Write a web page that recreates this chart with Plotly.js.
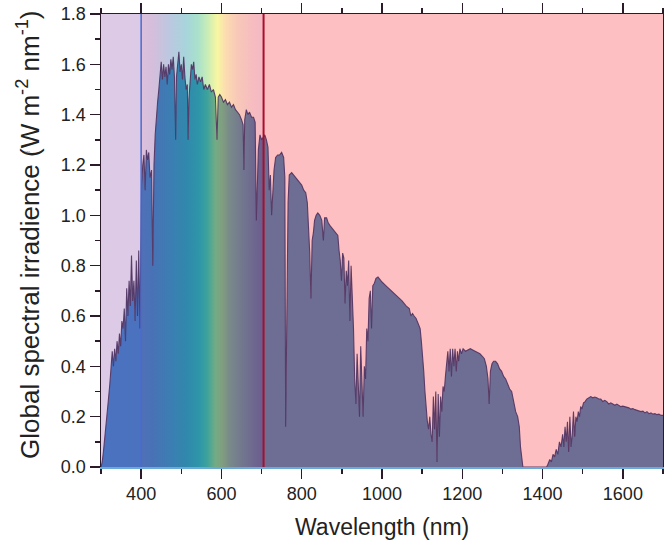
<!DOCTYPE html>
<html>
<head>
<meta charset="utf-8">
<script src="https://cdn.plot.ly/plotly-3.0.1.min.js"></script>
<style>html,body{margin:0;padding:0;background:#fff;}#chart{width:664px;height:540px;}</style>
</head>
<body>
<div id="chart"></div>
<script>
// ---- Data ----
const wavelength = [300,303,306,310,314,318,322,325,328,331,334,337,340,343,346,349,352,355,358,361,364,367,370,373,376,379,382,385,388,391,394,397,399,
401,404,407,410,413,416,419,422,426,429,432,435,438,441,444,447,450,453,456,459,462,465,468,471,474,477,480,483,486,488,491,494,497,500,503,506,509,512,515,517,519,522,525,528,531,534,537,540,544,548,552,556,560,565,570,575,580,585,589,592,596,
600,605,610,615,620,625,630,635,640,645,650,654,656,658,662,666,670,675,680,684,687,689,692,696,700,704,708,712,716,719,722,725,728,731,735,740,745,750,755,758,760,762,764,766,769,775,780,785,790,795,
800,805,810,814,817,820,823,826,829,832,836,840,845,850,854,857,862,866,870,875,880,885,890,893,896,899,902,905,908,911,914,917,920,923,926,929,932,935,938,941,944,947,950,953,956,959,962,965,968,971,974,977,981,985,990,995,
1000,1010,1020,1030,1040,1050,1060,1068,1072,1076,1080,1085,1090,1095,1098,1101,1104,1107,1110,1113,1116,1119,1122,1125,1128,1131,1134,1137,1140,1143,1146,1149,1152,1155,1158,1161,1164,1167,1170,1173,1176,1179,1182,1185,1188,1191,1194,1198,
1202,1208,1214,1220,1226,1232,1238,1244,1250,1255,1260,1264,1267,1270,1274,1278,1283,1288,1293,1298,1303,1308,1313,1318,1323,1328,1333,1338,1342,1345,1348,1351,1400,1410,1413,1418,1422,1426,1430,1434,1438,1442,1446,1450,1453,1456,1459,1462,1465,1468,1471,1474,1477,1480,1483,1486,1489,1492,1495,1498,
1502,1506,1510,1515,1520,1525,1530,1535,1540,1545,1550,1555,1560,1565,1570,1575,1580,1585,1590,1595,1600,1605,1610,1615,1620,1625,1630,1635,1640,1645,1650,1655,1660,1665,1670,1675,1680,1685,1690,1695,1700];

const irradiance = [0.0,0.02,0.06,0.12,0.19,0.26,0.33,0.40,0.46,0.40,0.47,0.42,0.50,0.45,0.53,0.48,0.58,0.55,0.63,0.50,0.71,0.60,0.74,0.64,0.84,0.66,0.74,0.58,0.82,0.60,0.86,0.55,0.90,
1.12,1.20,1.24,1.10,1.26,1.22,1.25,1.15,1.18,0.80,1.20,1.32,1.40,1.45,1.50,1.56,1.61,1.54,1.60,1.55,1.59,1.52,1.60,1.56,1.62,1.58,1.63,1.55,1.30,1.55,1.60,1.65,1.57,1.60,1.54,1.63,1.55,1.50,1.52,1.30,1.46,1.55,1.60,1.58,1.61,1.54,1.56,1.52,1.55,1.53,1.55,1.50,1.52,1.50,1.52,1.49,1.50,1.47,1.30,1.47,1.48,
1.47,1.45,1.46,1.44,1.45,1.43,1.44,1.42,1.41,1.40,1.38,1.36,1.18,1.38,1.42,1.40,1.41,1.39,1.39,1.37,0.98,1.15,1.26,1.32,1.30,1.31,1.32,1.30,1.27,1.10,1.16,1.00,1.10,1.18,1.23,1.24,1.24,1.25,1.23,1.15,0.16,0.40,0.69,1.05,1.16,1.17,1.16,1.15,1.14,1.13,
1.12,1.10,1.09,1.05,0.95,0.85,0.67,0.90,0.93,0.98,1.00,1.01,1.00,0.98,0.90,0.99,0.99,0.97,0.96,0.95,0.94,0.93,0.92,0.86,0.82,0.74,0.85,0.83,0.65,0.78,0.72,0.82,0.58,0.80,0.70,0.55,0.35,0.25,0.45,0.30,0.20,0.48,0.30,0.20,0.40,0.35,0.55,0.50,0.67,0.70,0.55,0.72,0.73,0.75,0.755,0.745,
0.735,0.72,0.705,0.69,0.675,0.66,0.64,0.63,0.60,0.61,0.60,0.59,0.57,0.55,0.50,0.45,0.38,0.30,0.22,0.18,0.15,0.20,0.13,0.10,0.28,0.15,0.30,0.02,0.29,0.12,0.28,0.22,0.32,0.30,0.36,0.42,0.46,0.38,0.47,0.36,0.47,0.40,0.47,0.38,0.46,0.42,0.47,0.45,
0.47,0.46,0.465,0.47,0.465,0.46,0.455,0.45,0.44,0.43,0.40,0.35,0.25,0.38,0.41,0.42,0.42,0.41,0.39,0.38,0.36,0.35,0.33,0.31,0.30,0.26,0.22,0.20,0.16,0.08,0.03,0.0,0.0,0.0,0.01,0.03,0.02,0.05,0.04,0.07,0.05,0.10,0.08,0.13,0.08,0.16,0.10,0.18,0.06,0.20,0.08,0.13,0.22,0.12,0.20,0.18,0.22,0.20,0.24,0.23,
0.255,0.26,0.27,0.275,0.28,0.275,0.278,0.275,0.27,0.27,0.26,0.265,0.26,0.25,0.255,0.25,0.245,0.25,0.245,0.24,0.242,0.24,0.238,0.235,0.23,0.232,0.228,0.225,0.225,0.22,0.222,0.215,0.22,0.212,0.215,0.21,0.212,0.208,0.21,0.205,0.205];

// Spectral regions (nm)
const xRange = [300, 1700];
const yRange = [0, 1.8];
const uvEdge = 400;
const irEdge = 705;
const xTicks = [400, 600, 800, 1000, 1200, 1400, 1600];

// Text
const xTitle = 'Wavelength (nm)';
const yTitle = 'Global spectral irradience (W m<sup>-2</sup> nm<sup>-1</sup>)';

// Colour stops along wavelength
const bgStopsWl  = [300, 399, 400, 430, 470, 510, 540, 565, 590, 610, 640, 680, 703, 705, 1700];
const bgStopsCol = ['#dccae6','#dccae6','#dcc0dc','#d4bedc','#bcc8e0','#a8d4dc','#a8e0cc','#c8ecb8','#f8f6a2','#fcdcb0','#f8c8b8','#f6bcc0','#f4b8c4','#fdbfc1','#fdbfc1'];
const fillStopsWl  = [300, 399, 400, 430, 470, 510, 545, 565, 585, 600, 620, 650, 680, 703, 705, 1700];
const fillStopsCol = ['#4a72bf','#4a72bf','#5070b8','#4872b5','#3c7db3','#3187ad','#2e96a8','#3ea29c','#72ac84','#80a080','#7a8a8a','#72788e','#6e6890','#6c5c8e','#6e6e94','#6e6e94'];

function scale(wls, cols) {
  return wls.map((w, i) => [(w - xRange[0]) / (xRange[1] - xRange[0]), cols[i]]);
}

const background = {
  x: xRange, y: [yRange[1], yRange[1]],
  xaxis: 'x',
  type: 'scatter', mode: 'none', fill: 'tozeroy',
  fillgradient: {type: 'horizontal', start: xRange[0], stop: xRange[1], colorscale: scale(bgStopsWl, bgStopsCol)},
  hoverinfo: 'skip', showlegend: false
};

const spectrum = {
  x: wavelength, y: irradiance,
  xaxis: 'x2',
  type: 'scatter', mode: 'lines', fill: 'tozeroy',
  line: {color: 'rgba(80,50,95,0.9)', width: 1.1},
  fillgradient: {type: 'horizontal', start: xRange[0], stop: xRange[1], colorscale: scale(fillStopsWl, fillStopsCol)},
  showlegend: false
};

const fontFam = '"Liberation Sans", Arial, sans-serif';
const axisDark = '#2a1a2a';

const layout = {
  width: 664, height: 540,
  margin: {l: 101, r: 1, t: 14, b: 73},
  paper_bgcolor: '#ffffff', plot_bgcolor: '#ffffff',
  font: {family: fontFam, size: 18, color: '#222222'},
  showlegend: false,
  xaxis: {
    range: xRange, tickvals: xTicks, ticks: 'outside', ticklen: 10, tickwidth: 1.5, tickcolor: axisDark,
    minor: {dtick: 100, tick0: 300, ticks: 'outside', ticklen: 5, tickwidth: 1.5, tickcolor: axisDark},
    showline: true, linecolor: '#6aaad8', linewidth: 1.5, showgrid: false, zeroline: false,
    tickfont: {size: 18, color: '#222'}
  },
  xaxis2: {
    overlaying: 'x', side: 'top', matches: 'x', range: xRange, tickvals: xTicks,
    ticks: 'outside', ticklen: 10, tickwidth: 1.5, tickcolor: axisDark,
    minor: {dtick: 100, tick0: 300, ticks: 'outside', ticklen: 5, tickwidth: 1.5, tickcolor: axisDark},
    showticklabels: false, showline: true, linecolor: axisDark, linewidth: 1.5, showgrid: false, zeroline: false
  },
  yaxis: {
    range: yRange, dtick: 0.2, tick0: 0, tickformat: '.1f', ticks: 'outside', ticklen: 10, tickwidth: 1.5, tickcolor: axisDark,
    minor: {dtick: 0.1, ticks: 'outside', ticklen: 5, tickwidth: 1.5, tickcolor: axisDark},
    showline: true, linecolor: axisDark, linewidth: 1.5, mirror: true, showgrid: false, zeroline: false,
    tickfont: {size: 18, color: '#222'}
  },
  annotations: [
    {text: xTitle, xref: 'paper', yref: 'paper', x: 0.5, y: -0.1325, xanchor: 'center', yanchor: 'middle',
     showarrow: false, font: {size: 23, color: '#222'}},
    {text: yTitle, xref: 'paper', yref: 'paper', x: -0.130, y: 0.512, xanchor: 'center', yanchor: 'middle',
     textangle: -90, showarrow: false, font: {size: 26, color: '#222'}},
    {text: '™', xref: 'paper', yref: 'paper', x: -0.14, y: 0.705, showarrow: false, font: {size: 6, color: '#999'}}
  ],
  shapes: [
    {type: 'line', xref: 'x', yref: 'paper', x0: uvEdge, x1: uvEdge, y0: 0, y1: 1, line: {color: '#4a6ad0', width: 1.5}},
    {type: 'line', xref: 'x', yref: 'paper', x0: irEdge, x1: irEdge, y0: 0, y1: 1, line: {color: '#a8102a', width: 2}}
  ]
};

Plotly.newPlot('chart', [background, spectrum], layout, {displayModeBar: false, staticPlot: true});
</script>
</body>
</html>
